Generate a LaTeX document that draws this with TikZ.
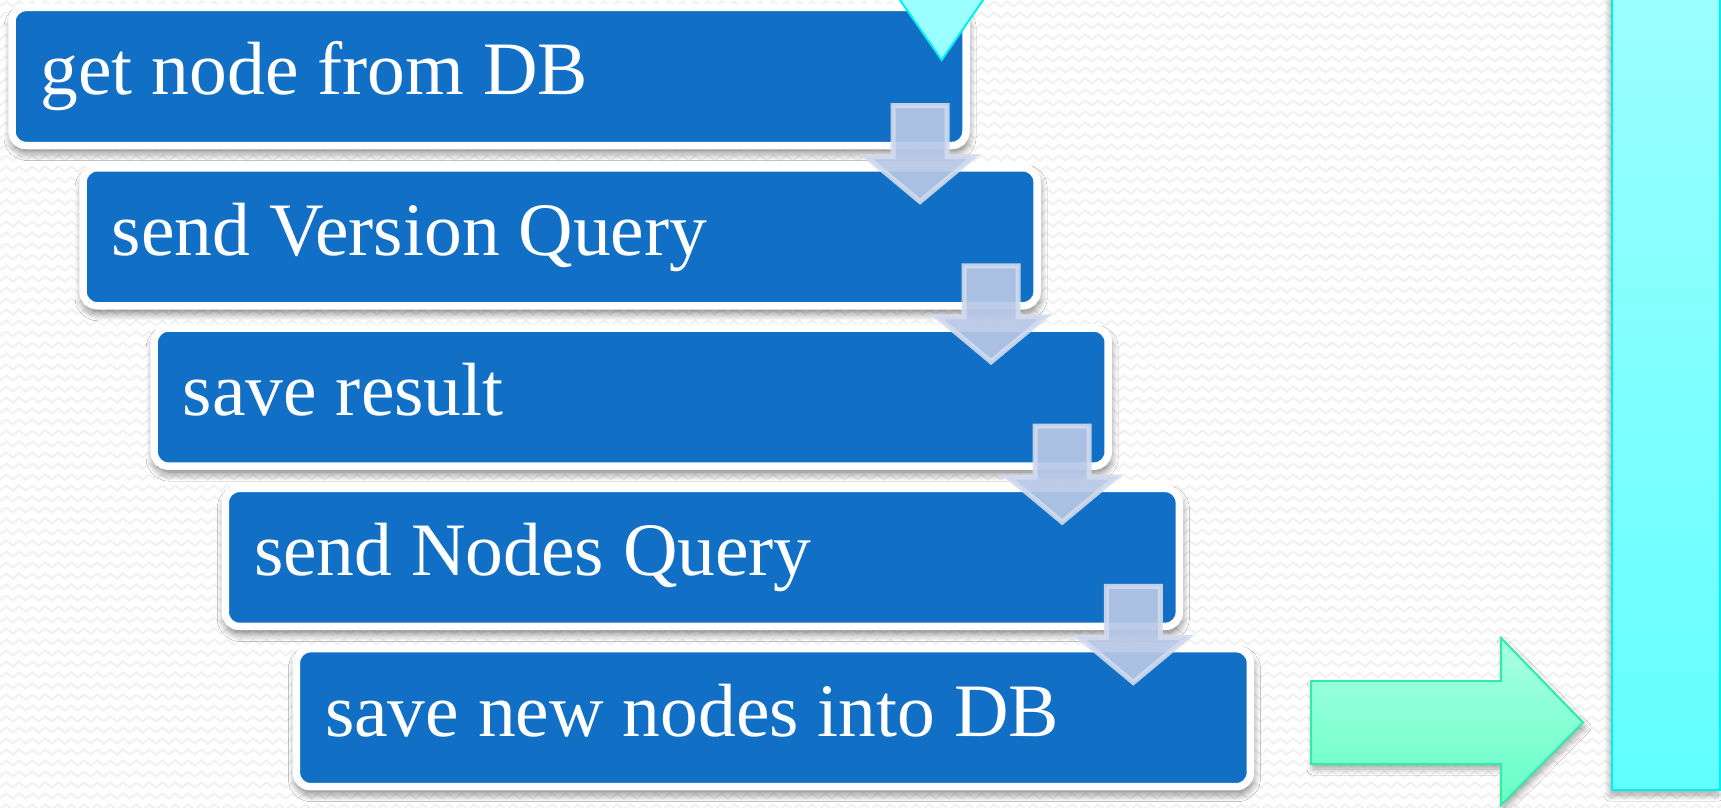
\documentclass[tikz,border=0pt]{standalone}
\usepackage{fontspec}
\setmainfont{Liberation Serif}
\usetikzlibrary{calc,shadows.blur,decorations.pathmorphing}
\definecolor{bgcol}{HTML}{FFFFFF}
\definecolor{bgzig}{HTML}{F1F1F1}
\definecolor{boxblue}{HTML}{1170C5}
\definecolor{arrfill}{HTML}{B7C7E6}
\definecolor{arrline}{HTML}{D2DBEE}
\definecolor{cyanline}{HTML}{00F0F0}
\definecolor{cyantop}{HTML}{9CFFFF}
\definecolor{cyanbot}{HTML}{62FFFF}
\definecolor{greenline}{HTML}{2EEDA8}
\definecolor{greentop}{HTML}{A8FFE3}
\definecolor{greenbot}{HTML}{66FFC8}
\tikzset{
  stepbox/.style={draw=white, line width=7.5pt, fill=boxblue, rounded corners=14pt,
    minimum width=954pt, minimum height=138pt, inner sep=0pt, outer sep=0pt,
    blur shadow={shadow xshift=1pt, shadow yshift=-6pt, shadow blur radius=9pt, shadow blur steps=10, shadow opacity=60}},
  steptext/.style={text=white, inner sep=0pt, font=\fontsize{75.5}{88}\selectfont},
  flowarrow/.style={fill=arrfill, fill opacity=0.92, draw=arrline, draw opacity=0.9, line width=5pt, line join=miter},
  downarr/.pic={\path[flowarrow] (-27,0) -- (27,0) -- (27,51) -- (54,51) -- (0,96) -- (-54,51) -- (-27,51) -- cycle;},
  zigline/.style={draw=bgzig, line width=2pt, decorate, decoration={zigzag, segment length=13pt, amplitude=2.5pt}}
}
\begin{document}
\begin{tikzpicture}[x=1pt,y=-1pt]
\useasboundingbox (0,0) rectangle (1721,808);
\clip (0,0) rectangle (1721,808);
\fill[bgcol] (0,0) rectangle (1721,808);
\foreach \r in {0,...,74} {
  \path[zigline] (-10,{4+11*\r}) -- (1740,{4+11*\r});
}
% right cyan bar
\path[top color=cyantop, bottom color=cyanbot, draw=cyanline, line width=2pt,
  blur shadow={shadow xshift=-2pt, shadow yshift=-5pt, shadow blur radius=6pt, shadow blur steps=8, shadow opacity=35}]
  (1612,-10) rectangle (1720,790);
% green block arrow
\path[top color=greentop, bottom color=greenbot, draw=greenline, line width=2pt,
  blur shadow={shadow xshift=2pt, shadow yshift=-5pt, shadow blur radius=6pt, shadow blur steps=8, shadow opacity=35}]
  (1311,681) -- (1501,681) -- (1501,638) -- (1583,722.5) -- (1501,805) -- (1501,764) -- (1311,764) -- cycle;
% step boxes
\node[stepbox, anchor=north west] (b1) at (12,7.5) {};
\node[stepbox, anchor=north west] (b2) at (83.1,167.8) {};
\node[stepbox, anchor=north west] (b3) at (154.2,328.1) {};
\node[stepbox, anchor=north west] (b4) at (225.3,488.4) {};
\node[stepbox, anchor=north west] (b5) at (296.4,648.7) {};
\node[steptext, anchor=base west] (t1) at ($(b1.north west)+(28.5,87.5)$) {get node from DB};
\node[steptext, anchor=base west] (t2) at ($(b2.north west)+(28.5,87.5)$) {send Version Query};
\node[steptext, anchor=base west] (t3) at ($(b3.north west)+(28.5,87.5)$) {save result};
\node[steptext, anchor=base west] (t4) at ($(b4.north west)+(28.5,87.5)$) {send Nodes Query};
\node[steptext, anchor=base west] (t5) at ($(b5.north west)+(28.5,87.5)$) {save new nodes into DB};
% cyan triangle at top
\path[fill=cyantop, draw=cyanline, line width=2pt, line join=miter]
  (893,-10) -- (990,-10) -- (941.7,60) -- cycle;
% down arrows between steps
\coordinate (a1) at ($(b1.south east)+(-46,-40)$);
\coordinate (a2) at ($(b2.south east)+(-46,-40)$);
\coordinate (a3) at ($(b3.south east)+(-46,-40)$);
\coordinate (a4) at ($(b4.south east)+(-46,-40)$);
\pic at (a1) {downarr};
\pic at (a2) {downarr};
\pic at (a3) {downarr};
\pic at (a4) {downarr};
\end{tikzpicture}
\end{document}
